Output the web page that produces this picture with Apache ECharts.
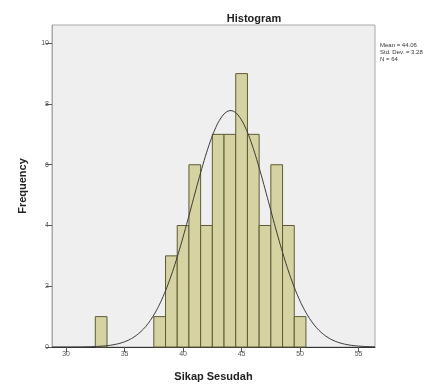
<!DOCTYPE html>
<html>
<head>
<meta charset="utf-8">
<script src="https://cdn.jsdelivr.net/npm/echarts@6/dist/echarts.min.js"></script>
<style>html,body{margin:0;padding:0;background:#fff}#c{width:441px;height:387px}</style>
</head>
<body>
<div id="c"></div>
<script>
// Histogram bins (centre value, bin width 1) and counts
var binCenters = [33, 38, 39, 40, 41, 42, 43, 44, 45, 46, 47, 48, 49, 50];
var binCounts  = [1, 1, 3, 4, 6, 4, 7, 7, 9, 7, 4, 6, 4, 1];
var xTicks = [30, 35, 40, 45, 50, 55];
var yTicks = [0, 2, 4, 6, 8, 10];
var MEAN = 44.06, SD = 3.28, N = 64, BIN = 1;
var statLines = ['Mean = 44.06', 'Std. Dev. = 3.28', 'N = 64'];
var XMIN = 28.8, XMAX = 56.4, YMAX = 10.6;

// fitted normal curve (SPSS overlay) from reported mean / SD / N
var curve = [];
for (var x = XMIN; x <= XMAX + 1e-9; x += 0.1) {
  var z = (x - MEAN) / SD;
  curve.push([x, N * BIN / (SD * Math.sqrt(2 * Math.PI)) * Math.exp(-0.5 * z * z)]);
}
var bars = binCenters.map(function (c, i) { return [c, binCounts[i]]; });

var chart = echarts.init(document.getElementById('c'), null, {renderer: 'canvas'});
var FONT = 'Liberation Sans, Arial, sans-serif';
chart.setOption({
  animation: false,
  title: {
    text: 'Histogram', left: 249, top: 8, textAlign: 'center',
    textStyle: {fontFamily: FONT, fontSize: 11, fontWeight: 'bold', color: '#222'}
  },
  grid: {
    left: 52, top: 25, right: 66, bottom: 40,
    show: true, backgroundColor: '#efefef', borderColor: '#a8a8a8', borderWidth: 1
  },
  xAxis: {
    type: 'value', min: XMIN, max: XMAX,
    name: 'Sikap Sesudah', nameLocation: 'middle', nameGap: 24,
    nameTextStyle: {fontFamily: FONT, fontSize: 11, fontWeight: 'bold', color: '#222'},
    axisLine: {show: true, onZero: false, lineStyle: {color: '#333', width: 1}},
    axisTick: {show: true, length: 5, customValues: xTicks, lineStyle: {color: '#555'}},
    axisLabel: {customValues: xTicks, fontFamily: FONT, fontSize: 7, color: '#555', margin: 4},
    splitLine: {show: false}
  },
  yAxis: {
    type: 'value', min: 0, max: YMAX,
    name: 'Frequency', nameLocation: 'middle', nameGap: 24,
    nameTextStyle: {fontFamily: FONT, fontSize: 11, fontWeight: 'bold', color: '#222'},
    axisLine: {show: true, lineStyle: {color: '#a8a8a8', width: 1}},
    axisTick: {show: true, length: 6, customValues: yTicks, lineStyle: {color: '#555'}},
    axisLabel: {customValues: yTicks, fontFamily: FONT, fontSize: 7, color: '#555', margin: 3},
    splitLine: {show: false}
  },
  graphic: [{
    type: 'text', left: 380, top: 42,
    style: {text: statLines.join('\n'), fontFamily: FONT, fontSize: 6, lineHeight: 7, fill: '#333'}
  }],
  series: [{
    type: 'custom',
    data: bars,
    renderItem: function (params, api) {
      var c = api.value(0), v = api.value(1);
      var p0 = api.coord([c - BIN / 2, v]);
      var p1 = api.coord([c + BIN / 2, 0]);
      return {
        type: 'rect',
        shape: {x: p0[0], y: p0[1], width: p1[0] - p0[0], height: p1[1] - p0[1]},
        style: {fill: '#d6d3a2', stroke: '#5f5a35', lineWidth: 1}
      };
    },
    z: 2
  }, {
    type: 'line', data: curve, showSymbol: false, smooth: false,
    lineStyle: {color: '#3a3a3a', width: 1}, z: 3
  }]
});
</script>
</body>
</html>
